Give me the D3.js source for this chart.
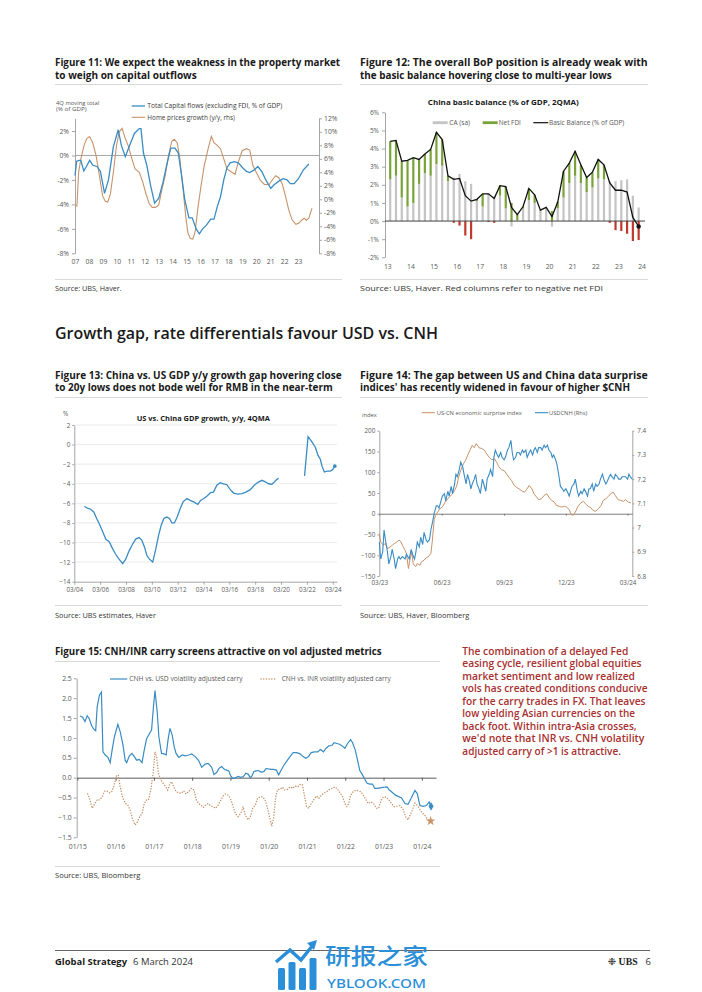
<!DOCTYPE html>
<html><head><meta charset="utf-8">
<script src="https://cdn.jsdelivr.net/npm/d3@7"></script>
<style>body{margin:0;background:#fff}svg{display:block}</style>
</head><body><svg id="page" width="702" height="992"></svg>
<script>
// ---------------- DATA ----------------
// Figure 11: [year, % of GDP] and [year, % y/y]
const fig11CapitalFlows = [[2007.00,-1.64],[2007.12,-0.47],[2007.30,-0.4],[2007.42,-0.4],[2007.63,-1.26],[2007.82,-0.9],[2008.05,-0.4],[2008.28,-0.8],[2008.58,-0.9],[2008.82,-1.3],[2009.12,-3.1],[2009.40,-2.0],[2009.75,0.7],[2010.10,2.1],[2010.33,0.8],[2010.61,-0.1],[2010.91,0.8],[2011.26,1.8],[2011.61,2.2],[2011.73,2.2],[2011.91,0.2],[2012.15,-0.8],[2012.43,-2.5],[2012.71,-3.9],[2013.01,-3.5],[2013.31,-2.2],[2013.59,-0.7],[2013.87,0.6],[2014.17,0.6],[2014.41,0.2],[2014.64,-1.6],[2014.87,-3.6],[2015.17,-5.1],[2015.41,-5.1],[2015.69,-6.0],[2015.92,-6.4],[2016.15,-6.0],[2016.43,-5.7],[2016.73,-5.2],[2016.97,-5.2],[2017.20,-4.2],[2017.43,-3.4],[2017.67,-2.0],[2017.90,-1.0],[2018.13,-0.6],[2018.43,-0.5],[2018.71,-0.6],[2019.02,-1.0],[2019.30,-1.3],[2019.53,-1.4],[2019.83,-1.2],[2020.11,-0.9],[2020.39,-1.3],[2020.69,-2.0],[2021.04,-2.7],[2021.28,-2.4],[2021.62,-2.1],[2021.93,-1.9],[2022.21,-2.0],[2022.44,-2.3],[2022.72,-2.3],[2023.02,-1.9],[2023.37,-1.2],[2023.77,-0.7]];
const fig11HomePrices = [[2007.00,-1.0],[2007.14,-1.0],[2007.26,4.0],[2007.42,6.0],[2007.65,8.0],[2007.84,9.0],[2008.05,9.3],[2008.28,8.3],[2008.51,6.5],[2008.75,3.5],[2008.98,0.5],[2009.17,-0.3],[2009.35,-0.4],[2009.54,0.8],[2009.75,4.0],[2009.98,8.0],[2010.17,10.0],[2010.38,10.5],[2010.61,9.0],[2010.84,7.8],[2011.08,6.0],[2011.31,4.5],[2011.61,4.0],[2011.84,2.7],[2012.08,0.9],[2012.31,-0.6],[2012.54,-1.2],[2012.78,-1.2],[2013.01,-0.8],[2013.24,1.5],[2013.47,3.5],[2013.71,6.5],[2013.94,8.6],[2014.13,8.9],[2014.34,8.3],[2014.52,6.0],[2014.75,1.5],[2014.94,-2.5],[2015.10,-5.0],[2015.27,-5.8],[2015.45,-5.9],[2015.62,-4.8],[2015.80,-1.5],[2016.04,2.0],[2016.27,5.0],[2016.55,7.5],[2016.78,9.3],[2016.97,8.4],[2017.20,8.0],[2017.43,7.5],[2017.67,6.0],[2017.90,4.5],[2018.25,4.0],[2018.48,3.7],[2018.71,5.5],[2018.99,7.2],[2019.30,7.5],[2019.53,7.3],[2019.76,5.0],[2020.00,4.0],[2020.30,2.8],[2020.58,2.2],[2020.93,2.2],[2021.16,2.9],[2021.39,3.5],[2021.62,3.2],[2021.86,2.3],[2022.09,0.5],[2022.32,-1.5],[2022.56,-3.0],[2022.84,-3.7],[2023.07,-3.5],[2023.25,-3.1],[2023.44,-2.8],[2023.60,-3.1],[2023.77,-2.8],[2024.00,-1.3]];
const fig11Years = [2007,2008,2009,2010,2011,2012,2013,2014,2015,2016,2017,2018,2019,2020,2021,2022,2023];
const fig11LeftTicks = [-8,-6,-4,-2,0,2];
const fig11RightTicks = [-8,-6,-4,-2,0,2,4,6,8,10,12];

// Figure 12: quarterly, % of GDP
const fig12Quarters = ["13Q1","13Q2","13Q3","13Q4","14Q1","14Q2","14Q3","14Q4","15Q1","15Q2","15Q3","15Q4","16Q1","16Q2","16Q3","16Q4","17Q1","17Q2","17Q3","17Q4","18Q1","18Q2","18Q3","18Q4","19Q1","19Q2","19Q3","19Q4","20Q1","20Q2","20Q3","20Q4","21Q1","21Q2","21Q3","21Q4","22Q1","22Q2","22Q3","22Q4","23Q1","23Q2","23Q3","23Q4"];
const fig12CA = [2.3,2.5,1.3,0.8,1.0,2.05,2.65,2.5,3.15,3.05,2.2,2.4,2.6,2.2,2.05,1.1,0.8,1.55,1.35,1.4,0.7,-0.3,0.05,0.7,1.15,1.0,0.55,0.75,-0.3,0.7,1.3,2.1,2.5,2.1,1.6,1.85,2.35,2.3,2.2,2.2,2.25,2.3,1.4,0.75];
const fig12FDI = [2.1,1.95,2.0,2.55,2.5,1.35,1.05,1.45,1.75,1.45,0.3,-0.1,-0.25,-0.8,-1.0,0.1,0.7,-0.05,-0.1,0.55,1.2,1.0,0.3,0.1,0.65,0.45,0.05,0.0,0.55,0.35,1.45,1.1,1.35,1.0,0.8,0.85,1.05,0.8,-0.1,-0.5,-0.55,-0.7,-1.1,-1.05];
const fig12Basic = [4.4,4.45,3.3,3.35,3.5,3.4,3.7,3.95,4.9,4.5,2.5,2.3,2.35,1.4,1.1,1.2,1.5,1.5,1.25,1.95,1.9,0.75,0.35,0.8,1.8,1.45,0.6,0.75,0.25,1.05,2.75,3.2,3.85,3.1,2.4,2.7,3.4,3.1,2.1,1.7,1.7,1.6,0.2,-0.3];
const fig12Years = [2013,2014,2015,2016,2017,2018,2019,2020,2021,2022,2023,2024];
const fig12Ticks = [-2,-1,0,1,2,3,4,5,6];

// Figure 13: US minus China GDP growth, y/y 4QMA (null = gap)
const fig13Dates = [2004.95,2005.18,2005.44,2005.69,2005.9,2006.11,2006.37,2006.62,2006.86,2007.12,2007.37,2007.63,2007.92,2008.15,2008.41,2008.67,2008.92,2009.18,2009.39,2009.6,2009.78,2009.98,2010.24,2010.47,2010.68,2010.89,2011.1,2011.33,2011.54,2011.72,2011.92,2012.13,2012.36,2012.59,2012.88,2013.14,2013.4,2013.73,2013.94,2014.2,2014.45,2014.71,2014.94,2015.2,2015.46,2015.72,2015.98,2016.24,2016.5,2016.83,2017.14,2017.45,2017.79,2018.1,2018.38,2018.69,2018.95,2019.2,2019.46,2019.67,2019.85,2019.98,2021.0,2021.99,2022.26,2022.44,2022.62,2022.83,2023.03,2023.21,2023.34,2023.52,2023.73,2023.99,2024.17,2024.33];
const fig13Gap = [-6.3,-6.5,-6.6,-6.9,-7.55,-8.1,-8.9,-9.7,-9.9,-10.6,-11.2,-11.7,-12.15,-11.7,-10.85,-10.2,-9.65,-9.5,-9.75,-10.45,-11.3,-11.7,-12.0,-10.7,-9.35,-8.25,-7.55,-7.4,-7.55,-8.0,-8.0,-7.4,-6.55,-5.85,-5.5,-5.7,-5.85,-6.1,-5.7,-5.5,-5.25,-4.9,-4.85,-4.15,-3.9,-4.0,-4.1,-4.6,-4.95,-5.05,-5.0,-4.85,-4.6,-4.15,-3.85,-3.65,-3.8,-4.0,-4.05,-3.8,-3.55,-3.45,null,-3.2,0.8,0.5,0.15,-0.3,-1.1,-1.5,-2.2,-2.8,-2.7,-2.7,-2.55,-2.2];
const fig13Ticks = [-14,-12,-10,-8,-6,-4,-2,0,2];
const fig13LabelDates = [2004.17,2006.17,2008.17,2010.17,2012.17,2014.17,2016.17,2018.17,2020.17,2022.17,2024.17];
const fig13Labels = ["03/04","03/06","03/08","03/10","03/12","03/14","03/16","03/18","03/20","03/22","03/24"];

// Figure 14: [days since 2023-03-01, value]
const fig14Surprise = [[0,-48],[2,-68],[6,-76],[9,-71],[12,-84],[16,-80],[19,-76],[22,-72],[26,-68],[29,-63],[32,-68],[35,-79],[38,-88],[40,-96],[43,-132],[45,-112],[48,-92],[50,-122],[54,-127],[56,-120],[60,-124],[62,-116],[66,-112],[69,-106],[72,-104],[76,-96],[78,-68],[81,-14],[83,-4],[86,4],[89,12],[93,16],[97,28],[101,36],[104,42],[108,48],[111,56],[114,66],[117,88],[120,104],[124,120],[127,128],[130,140],[134,154],[137,165],[140,159],[143,169],[147,159],[151,157],[155,153],[158,145],[162,136],[166,130],[170,132],[173,124],[176,114],[180,106],[184,104],[188,95],[191,88],[195,80],[199,68],[202,64],[206,60],[210,55],[214,52],[217,58],[221,68],[225,60],[228,48],[232,40],[235,34],[239,36],[243,44],[247,48],[250,40],[254,32],[258,28],[261,20],[265,18],[269,16],[273,18],[276,16],[280,10],[283,-2],[286,-4],[289,4],[293,18],[297,26],[301,30],[304,24],[308,18],[312,14],[315,8],[319,6],[323,12],[327,20],[330,32],[334,36],[338,42],[341,48],[345,52],[348,44],[352,34],[356,32],[360,30],[363,34],[367,28],[371,26]];
const fig14USDCNH = [[0,6.94],[2,6.87],[5,6.90],[7,6.99],[9,6.95],[12,6.90],[14,6.85],[17,6.88],[19,6.91],[22,6.87],[24,6.83],[27,6.87],[29,6.88],[31,6.87],[34,6.88],[38,6.87],[40,6.89],[44,6.87],[47,6.91],[49,6.89],[52,6.87],[54,6.90],[56,6.94],[59,6.92],[61,6.96],[64,6.93],[66,6.98],[69,6.95],[71,6.94],[74,6.95],[76,6.99],[79,7.03],[81,7.06],[84,7.09],[86,7.09],[88,7.08],[91,7.11],[93,7.13],[96,7.14],[98,7.11],[101,7.15],[103,7.13],[106,7.17],[108,7.14],[111,7.18],[113,7.22],[115,7.21],[118,7.24],[120,7.27],[123,7.25],[125,7.22],[128,7.18],[130,7.22],[133,7.19],[135,7.16],[137,7.18],[140,7.20],[142,7.22],[144,7.18],[147,7.16],[149,7.14],[152,7.20],[154,7.18],[157,7.15],[159,7.20],[162,7.22],[164,7.24],[167,7.21],[169,7.29],[171,7.32],[174,7.30],[176,7.29],[179,7.31],[181,7.29],[184,7.28],[186,7.29],[189,7.32],[191,7.33],[194,7.36],[196,7.31],[198,7.28],[201,7.29],[203,7.31],[206,7.31],[208,7.30],[211,7.32],[213,7.31],[216,7.32],[218,7.29],[221,7.31],[223,7.32],[226,7.30],[228,7.32],[230,7.33],[233,7.31],[235,7.33],[238,7.33],[240,7.32],[243,7.34],[245,7.33],[248,7.34],[250,7.32],[253,7.31],[255,7.29],[257,7.30],[260,7.28],[262,7.26],[265,7.21],[267,7.17],[270,7.16],[272,7.15],[275,7.16],[277,7.15],[280,7.13],[282,7.15],[284,7.17],[287,7.18],[289,7.20],[292,7.15],[294,7.13],[297,7.15],[299,7.14],[302,7.16],[304,7.15],[307,7.13],[309,7.16],[311,7.16],[314,7.18],[316,7.15],[319,7.18],[321,7.17],[324,7.18],[326,7.20],[329,7.22],[331,7.20],[334,7.18],[336,7.19],[339,7.21],[341,7.22],[343,7.21],[346,7.20],[348,7.22],[351,7.21],[353,7.20],[356,7.20],[358,7.21],[361,7.21],[363,7.21],[366,7.20],[368,7.22],[370,7.21],[373,7.20]];
const fig14LeftTicks = [-150,-100,-50,0,50,100,150,200];
const fig14RightTicks = [6.8,6.9,7.0,7.1,7.2,7.3,7.4];
const fig14LabelDays = [0,92,184,275,366];
const fig14Labels = ["03/23","06/23","09/23","12/23","03/24"];

// Figure 15: [year, vol-adjusted carry]
const fig15CnhUsd = [[2015.07,1.55],[2015.14,1.52],[2015.20,1.41],[2015.26,1.56],[2015.31,1.49],[2015.37,1.32],[2015.43,1.22],[2015.48,1.18],[2015.52,1.79],[2015.58,2.08],[2015.63,2.15],[2015.67,0.65],[2015.73,0.57],[2015.80,0.51],[2015.86,0.38],[2015.91,0.70],[2015.97,1.03],[2016.06,1.34],[2016.12,1.16],[2016.19,0.84],[2016.25,0.44],[2016.29,0.38],[2016.36,0.55],[2016.43,0.61],[2016.49,0.53],[2016.55,0.44],[2016.62,0.46],[2016.69,0.38],[2016.75,0.70],[2016.81,0.98],[2016.88,1.10],[2016.94,1.20],[2016.99,1.79],[2017.03,2.19],[2017.09,1.62],[2017.13,1.03],[2017.20,0.61],[2017.27,0.60],[2017.32,0.57],[2017.37,0.95],[2017.42,1.24],[2017.48,1.07],[2017.53,0.78],[2017.58,0.61],[2017.65,0.51],[2017.74,0.57],[2017.82,0.55],[2017.91,0.57],[2017.99,0.60],[2018.08,0.53],[2018.17,0.43],[2018.25,0.26],[2018.34,0.34],[2018.42,0.36],[2018.51,0.26],[2018.57,0.08],[2018.64,0.13],[2018.70,0.23],[2018.77,0.28],[2018.84,0.21],[2018.90,0.19],[2018.96,0.17],[2019.01,0.04],[2019.07,-0.02],[2019.13,0.00],[2019.20,0.03],[2019.27,0.01],[2019.34,0.03],[2019.40,0.11],[2019.46,0.09],[2019.52,0.00],[2019.56,0.04],[2019.61,0.15],[2019.67,0.17],[2019.73,0.18],[2019.80,0.14],[2019.87,0.15],[2019.93,0.23],[2019.99,0.22],[2020.06,0.21],[2020.13,0.21],[2020.20,0.19],[2020.26,0.07],[2020.32,0.18],[2020.40,0.32],[2020.49,0.44],[2020.57,0.55],[2020.64,0.63],[2020.73,0.63],[2020.82,0.60],[2020.90,0.53],[2020.97,0.49],[2021.04,0.53],[2021.11,0.63],[2021.19,0.65],[2021.28,0.65],[2021.35,0.71],[2021.43,0.65],[2021.50,0.74],[2021.57,0.80],[2021.65,0.81],[2021.71,0.88],[2021.78,0.86],[2021.85,0.84],[2021.92,0.80],[2021.99,0.74],[2022.06,0.86],[2022.14,0.96],[2022.19,0.88],[2022.26,0.70],[2022.32,0.44],[2022.38,0.18],[2022.45,0.07],[2022.51,-0.04],[2022.57,-0.14],[2022.64,-0.16],[2022.71,-0.16],[2022.77,-0.27],[2022.85,-0.27],[2022.94,-0.25],[2023.03,-0.24],[2023.09,-0.23],[2023.15,-0.31],[2023.24,-0.38],[2023.31,-0.44],[2023.47,-0.51],[2023.56,-0.65],[2023.64,-0.67],[2023.73,-0.50],[2023.82,-0.32],[2023.88,-0.40],[2023.95,-0.70],[2024.03,-0.72],[2024.12,-0.70],[2024.19,-0.61],[2024.24,-0.72]];
const fig15CnhInr = [[2015.27,-0.41],[2015.33,-0.56],[2015.39,-0.77],[2015.46,-0.65],[2015.52,-0.55],[2015.58,-0.56],[2015.65,-0.48],[2015.71,-0.34],[2015.77,-0.33],[2015.84,-0.38],[2015.90,-0.35],[2015.95,-0.23],[2016.02,0.04],[2016.07,0.07],[2016.12,-0.23],[2016.19,-0.52],[2016.26,-0.65],[2016.32,-0.69],[2016.38,-0.81],[2016.45,-1.06],[2016.51,-1.19],[2016.57,-1.11],[2016.63,-0.98],[2016.69,-0.90],[2016.75,-0.65],[2016.81,-0.56],[2016.86,-0.56],[2016.92,-0.31],[2016.98,0.11],[2017.03,0.65],[2017.07,0.53],[2017.12,0.11],[2017.18,-0.06],[2017.24,-0.14],[2017.31,-0.23],[2017.36,-0.31],[2017.41,-0.18],[2017.46,-0.10],[2017.52,-0.23],[2017.58,-0.35],[2017.65,-0.38],[2017.72,-0.39],[2017.78,-0.33],[2017.84,-0.41],[2017.91,-0.35],[2017.98,-0.27],[2018.05,-0.31],[2018.11,-0.56],[2018.17,-0.65],[2018.23,-0.69],[2018.29,-0.75],[2018.35,-0.69],[2018.42,-0.65],[2018.49,-0.71],[2018.55,-0.73],[2018.61,-0.77],[2018.68,-0.69],[2018.75,-0.56],[2018.81,-0.46],[2018.87,-0.41],[2018.94,-0.44],[2019.00,-0.52],[2019.07,-0.73],[2019.13,-0.90],[2019.20,-0.98],[2019.27,-0.90],[2019.33,-0.73],[2019.39,-0.94],[2019.46,-1.06],[2019.52,-0.98],[2019.58,-0.77],[2019.65,-0.69],[2019.71,-0.52],[2019.78,-0.48],[2019.84,-0.48],[2019.90,-0.55],[2019.95,-0.69],[2020.04,-1.06],[2020.08,-1.22],[2020.13,-1.0],[2020.18,-0.5],[2020.23,-0.30],[2020.30,-0.29],[2020.36,-0.24],[2020.42,-0.31],[2020.49,-0.29],[2020.56,-0.23],[2020.63,-0.27],[2020.69,-0.21],[2020.76,-0.23],[2020.83,-0.16],[2020.88,-0.18],[2020.94,-0.48],[2020.99,-0.73],[2021.05,-0.77],[2021.11,-0.65],[2021.18,-0.55],[2021.25,-0.46],[2021.31,-0.52],[2021.38,-0.44],[2021.45,-0.38],[2021.52,-0.35],[2021.59,-0.29],[2021.66,-0.27],[2021.73,-0.23],[2021.80,-0.29],[2021.86,-0.38],[2021.93,-0.48],[2021.99,-0.65],[2022.04,-0.73],[2022.09,-0.65],[2022.14,-0.44],[2022.21,-0.35],[2022.28,-0.31],[2022.34,-0.33],[2022.40,-0.35],[2022.47,-0.44],[2022.54,-0.55],[2022.60,-0.65],[2022.67,-0.61],[2022.74,-0.65],[2022.81,-0.77],[2022.87,-0.77],[2022.94,-0.56],[2023.00,-0.48],[2023.07,-0.49],[2023.14,-0.56],[2023.21,-0.65],[2023.28,-0.73],[2023.43,-0.70],[2023.51,-0.80],[2023.58,-0.99],[2023.64,-1.06],[2023.73,-0.86],[2023.82,-0.64],[2023.90,-0.72],[2023.99,-0.86],[2024.08,-0.95],[2024.16,-1.06],[2024.23,-1.09]];
const fig15Ticks = [-1.5,-1.0,-0.5,0.0,0.5,1.0,1.5,2.0,2.5];
const fig15Years = [2015,2016,2017,2018,2019,2020,2021,2022,2023,2024];

const commentLines = ["The combination of a delayed Fed","easing cycle, resilient global equities","market sentiment and low realized","vols has created conditions conducive","for the carry trades in FX. That leaves","low yielding Asian currencies on the","back foot. Within intra-Asia crosses,","we'd note that INR vs. CNH volatility","adjusted carry of >1 is attractive."];

// ---------------- DRAWING ----------------
const FONT = '"Open Sans","Noto Sans","DejaVu Sans",sans-serif';
const BLUE = "#3a8cc4", TAN = "#c8936b", GREEN = "#79a33a", RED = "#c0392b", GRAY = "#c4c4c4";
const svg = d3.select("#page");
svg.append("rect").attr("width",702).attr("height",992).attr("fill","#fff");

function addText(x, y, s, o = {}) {
  const t = svg.append("text").attr("x", x).attr("y", y).text(s)
    .attr("font-family", o.family || FONT).attr("font-size", o.size || 7)
    .attr("fill", o.fill || "#333").attr("font-weight", o.weight || 400)
    .attr("text-anchor", o.anchor || "start");
  if (o.width) t.attr("textLength", o.width).attr("lengthAdjust", "spacingAndGlyphs");
  return t;
}
function hline(x1, x2, y, color = "#d9d9d9", w = 1) {
  svg.append("line").attr("x1", x1).attr("x2", x2).attr("y1", y).attr("y2", y)
    .attr("stroke", color).attr("stroke-width", w);
}
function styleAxis(g, o = {}) {
  g.attr("font-family", FONT).attr("font-size", o.size || 6.5);
  g.selectAll("text").attr("fill", o.fill || "#595959");
  g.selectAll(".domain").attr("stroke", o.line || "#a6a6a6");
  g.selectAll(".tick line").attr("stroke", o.line || "#a6a6a6");
  if (o.noDomain) g.select(".domain").remove();
  return g;
}
const yy = d => String(d).slice(2);

// ---- Titles, separators, sources ----
const T = {size: 10, weight: 700, fill: "#1a1a1a"};
addText(55, 66, "Figure 11: We expect the weakness in the property market", {...T, width: 285});
addText(55, 79, "to weigh on capital outflows", {...T, width: 141.7});
addText(360, 66, "Figure 12: The overall BoP position is already weak with", {...T, width: 287.7});
addText(360, 79, "the basic balance hovering close to multi-year lows", {...T, width: 251.7});
hline(55, 342, 84.5); hline(360, 648, 84.5);
hline(55, 342, 279.5); hline(360, 648, 279.5);
addText(55, 290.5, "Source: UBS, Haver.", {size: 7, fill: "#333", width: 66.7});
addText(360, 290.5, "Source: UBS, Haver. Red columns refer to negative net FDI", {size: 7, fill: "#333", width: 243});

addText(55, 339, "Growth gap, rate differentials favour USD vs. CNH", {size: 16.5, weight: 600, fill: "#1a1a1a", width: 383});

addText(55, 378.5, "Figure 13: China vs. US GDP y/y growth gap hovering close", {...T, width: 286.7});
addText(55, 391, "to 20y lows does not bode well for RMB in the near-term", {...T, width: 277.7});
addText(360, 378.5, "Figure 14: The gap between US and China data surprise", {...T, width: 287.7});
addText(360, 391, "indices' has recently widened in favour of higher $CNH", {...T, width: 270});
hline(55, 342, 397.5); hline(360, 648, 397.5);
hline(55, 342, 605.5); hline(360, 648, 605.5);
addText(55, 617.5, "Source: UBS estimates, Haver", {size: 7, width: 101});
addText(360, 617.5, "Source: UBS, Haver, Bloomberg", {size: 7, width: 109.3});

addText(55, 654.5, "Figure 15: CNH/INR carry screens attractive on vol adjusted metrics", {...T, width: 326.7});
hline(55, 440, 661.5);
hline(55, 440, 866.5);
addText(55, 877.5, "Source: UBS, Bloomberg", {size: 7, width: 85.3});

// commentary
const commentWidths = [166, 179.3, 172.7, 185.3, 183.3, 172.7, 174.3, 182, 158.7];
commentLines.forEach((s, i) => addText(462.3, 654.5 + i * 12.5, s, {size: 10.5, weight: 600, fill: "#a8302f", width: commentWidths[i]}));

// ---------------- FIGURE 11 ----------------
{
  const x = d3.scaleLinear().domain([2007, 2024.5]).range([75, 319]);
  const yL = d3.scaleLinear().domain([-8, 3.04]).range([253.3, 118.3]);
  const yR = d3.scaleLinear().domain([-8, 12]).range([253.3, 118.3]);
  styleAxis(svg.append("g").attr("transform", "translate(75,0)")
    .call(d3.axisLeft(yL).tickValues(fig11LeftTicks).tickFormat(d => d + "%").tickSize(3).tickPadding(3).tickSizeOuter(0)), {size: 6.8});
  styleAxis(svg.append("g").attr("transform", "translate(319,0)")
    .call(d3.axisRight(yR).tickValues(fig11RightTicks).tickFormat(d => d + "%").tickSize(3).tickPadding(2).tickSizeOuter(0)), {size: 6.8});
  styleAxis(svg.append("g").attr("transform", "translate(0,253.3)")
    .call(d3.axisBottom(x).tickValues(fig11Years).tickFormat(yy).tickSize(0).tickPadding(6)), {size: 6.8, noDomain: true});
  hline(75, 319, yL(0), "#a6a6a6");
  svg.append("path").datum(fig11HomePrices).attr("fill", "none").attr("stroke", TAN).attr("stroke-width", 1.1)
    .attr("d", d3.line().x(d => x(d[0])).y(d => yR(d[1])));
  svg.append("path").datum(fig11CapitalFlows).attr("fill", "none").attr("stroke", BLUE).attr("stroke-width", 1.3)
    .attr("d", d3.line().x(d => x(d[0])).y(d => yL(d[1])));
  addText(56, 104.5, "4Q moving total", {size: 5.6, fill: "#595959", width: 43.3});
  addText(56, 111, "(% of GDP)", {size: 5.6, fill: "#595959", width: 30.7});
  hline(131.7, 145, 106, BLUE, 1.3);
  addText(147.3, 108.3, "Total Capital flows (excluding FDI, % of GDP)", {size: 6.3, fill: "#404040", width: 135});
  hline(131.7, 145, 117.3, TAN, 1.1);
  addText(147.3, 119.6, "Home prices growth (y/y, rhs)", {size: 6.3, fill: "#404040", width: 87.7});
}

// ---------------- FIGURE 12 ----------------
{
  const x = d3.scaleLinear().domain([2012.9, 2024.15]).range([385, 645]);
  const y = d3.scaleLinear().domain([-2, 6]).range([257.3, 112.3]);
  const qx = q => x(+("20" + q.slice(0, 2)) + (+q[3] - 1) * 0.25 + 0.125);
  addText(503.3, 104.5, "China basic balance (% of GDP, 2QMA)", {size: 7.5, weight: 700, fill: "#1a1a1a", anchor: "middle", width: 151});
  styleAxis(svg.append("g").attr("transform", "translate(385,0)")
    .call(d3.axisLeft(y).tickValues(fig12Ticks).tickFormat(d => d + "%").tickSize(3).tickPadding(3).tickSizeOuter(0)), {size: 6.5});
  styleAxis(svg.append("g").attr("transform", "translate(0,257.3)")
    .call(d3.axisBottom(x).tickValues(fig12Years).tickFormat(yy).tickSize(0).tickPadding(7)), {size: 6.8, noDomain: true});
  const bw = 2.2;
  const bars = svg.append("g");
  fig12Quarters.forEach((q, i) => {
    const ca = fig12CA[i], fdi = fig12FDI[i], cx = qx(q);
    bars.append("rect").attr("x", cx - bw / 2).attr("width", bw)
      .attr("y", y(Math.max(0, ca))).attr("height", Math.abs(y(0) - y(ca))).attr("fill", GRAY);
    let base = (fdi >= 0) === (ca >= 0) ? ca : 0;
    const top = base + fdi;
    bars.append("rect").attr("x", cx - bw / 2).attr("width", bw)
      .attr("y", y(Math.max(base, top))).attr("height", Math.abs(y(base) - y(top)))
      .attr("fill", fdi >= 0 ? GREEN : RED);
  });
  hline(385, 645, y(0), "#404040", 1);
  const pts = fig12Quarters.map((q, i) => [qx(q), y(fig12Basic[i])]);
  svg.append("path").datum(pts).attr("fill", "none").attr("stroke", "#111").attr("stroke-width", 1.3)
    .attr("d", d3.line());
  const last = pts[pts.length - 1];
  svg.append("circle").attr("cx", last[0]).attr("cy", last[1]).attr("r", 2.2).attr("fill", "#111");
  hline(432.7, 447.7, 122.7, GRAY, 2.8);
  addText(449.3, 125, "CA (sa)", {size: 6.3, fill: "#595959", width: 20.7});
  hline(482.7, 497.7, 122.7, GREEN, 2.8);
  addText(498.8, 125, "Net FDI", {size: 6.3, fill: "#595959", width: 22});
  hline(533.3, 548.3, 122.7, "#111", 1.2);
  addText(549, 125, "Basic Balance (% of GDP)", {size: 6.3, fill: "#595959", width: 75.3});
}

// ---------------- FIGURE 13 ----------------
{
  const x = d3.scaleLinear().domain([2004.17, 2024.5]).range([74.3, 337]);
  const y = d3.scaleLinear().domain([-14, 2]).range([581.7, 425]);
  addText(203.3, 421, "US vs. China GDP growth, y/y, 4QMA", {size: 7.5, weight: 700, fill: "#1a1a1a", anchor: "middle", width: 133.3});
  addText(63, 415.5, "%", {size: 6.3, fill: "#595959"});
  svg.append("g").selectAll("line").data(fig13Ticks.filter(d => d > -14)).join("line")
    .attr("x1", 74.3).attr("x2", 337).attr("y1", d => y(d)).attr("y2", d => y(d))
    .attr("stroke", "#e6e6e6").attr("stroke-width", 0.8);
  styleAxis(svg.append("g").attr("transform", "translate(74.3,0)")
    .call(d3.axisLeft(y).tickValues(fig13Ticks).tickSize(2).tickPadding(2).tickSizeOuter(0)), {size: 6.3});
  styleAxis(svg.append("g").attr("transform", "translate(0,581.7)")
    .call(d3.axisBottom(x).tickValues(fig13LabelDates).tickFormat((d, i) => fig13Labels[i]).tickSize(3).tickPadding(3).tickSizeOuter(0)), {size: 6.3});
  const data = fig13Dates.map((d, i) => [d, fig13Gap[i]]);
  svg.append("path").datum(data).attr("fill", "none").attr("stroke", BLUE).attr("stroke-width", 1.3)
    .attr("d", d3.line().defined(d => d[1] !== null).x(d => x(d[0])).y(d => y(d[1])));
  const last = data[data.length - 1];
  svg.append("circle").attr("cx", x(last[0])).attr("cy", y(last[1])).attr("r", 1.8).attr("fill", BLUE);
}

// ---------------- FIGURE 14 ----------------
{
  const x = d3.scaleLinear().domain([0, 373]).range([379.3, 632.3]);
  const yL = d3.scaleLinear().domain([-150, 200]).range([576, 430.7]);
  const yR = d3.scaleLinear().domain([6.8, 7.4]).range([576, 430.7]);
  addText(362, 417, "index", {size: 5.8, fill: "#595959"});
  styleAxis(svg.append("g").attr("transform", "translate(379.3,0)")
    .call(d3.axisLeft(yL).tickValues(fig14LeftTicks).tickSize(2).tickPadding(2).tickSizeOuter(0)), {size: 6.3});
  styleAxis(svg.append("g").attr("transform", "translate(632.3,0)")
    .call(d3.axisRight(yR).tickValues(fig14RightTicks).tickFormat(d => d3.format("~g")(d)).tickSize(2).tickPadding(3).tickSizeOuter(0)), {size: 6.3});
  styleAxis(svg.append("g").attr("transform", "translate(0,576)")
    .call(d3.axisBottom(x).tickValues(fig14LabelDays).tickFormat((d, i) => fig14Labels[i]).tickSize(0).tickPadding(5)), {size: 6.3, noDomain: true});
  styleAxis(svg.append("g").attr("transform", `translate(0,${yL(0)})`)
    .call(d3.axisBottom(x).tickValues(fig14LabelDays).tickFormat("").tickSize(2).tickSizeOuter(0)), {line: "#7f7f7f"});
  svg.append("path").datum(fig14Surprise).attr("fill", "none").attr("stroke", TAN).attr("stroke-width", 1)
    .attr("d", d3.line().x(d => x(d[0])).y(d => yL(d[1])));
  svg.append("path").datum(fig14USDCNH).attr("fill", "none").attr("stroke", BLUE).attr("stroke-width", 1.1)
    .attr("d", d3.line().x(d => x(d[0])).y(d => yR(d[1])));
  hline(421.7, 435, 412.7, TAN, 1);
  addText(436.7, 414.8, "US-CN economic surprise index", {size: 5.8, fill: "#595959", width: 85});
  hline(535, 548.3, 412.7, BLUE, 1.1);
  addText(549, 414.8, "USDCNH (Rhs)", {size: 5.8, fill: "#595959", width: 38.3});
}

// ---------------- FIGURE 15 ----------------
{
  const x = d3.scaleLinear().domain([2015, 2024.37]).range([77.3, 436]);
  const y = d3.scaleLinear().domain([-1.5, 2.5]).range([837.3, 678.3]);
  styleAxis(svg.append("g").attr("transform", "translate(76.7,0)")
    .call(d3.axisLeft(y).tickValues(fig15Ticks).tickFormat(d3.format(".1f")).tickSize(3).tickPadding(2).tickSizeOuter(0)), {size: 6.8});
  styleAxis(svg.append("g").attr("transform", "translate(0,837.3)")
    .call(d3.axisBottom(x).tickValues(fig15Years).tickFormat(d => "01/" + yy(d)).tickSize(0).tickPadding(7)), {size: 6.8, noDomain: true});
  styleAxis(svg.append("g").attr("transform", `translate(0,${y(0)})`)
    .call(d3.axisBottom(x).tickValues(fig15Years).tickFormat("").tickSize(3).tickSizeOuter(0)), {line: "#595959"});
  svg.append("path").datum(fig15CnhInr).attr("fill", "none").attr("stroke", TAN).attr("stroke-width", 1.4)
    .attr("stroke-dasharray", "0.1,2.6").attr("stroke-linecap", "round")
    .attr("d", d3.line().x(d => x(d[0])).y(d => y(d[1])));
  svg.append("path").datum(fig15CnhUsd).attr("fill", "none").attr("stroke", BLUE).attr("stroke-width", 1.2)
    .attr("d", d3.line().x(d => x(d[0])).y(d => y(d[1])));
  const lu = fig15CnhUsd[fig15CnhUsd.length - 1], li = fig15CnhInr[fig15CnhInr.length - 1];
  svg.append("path").attr("d", d3.symbol(d3.symbolDiamond, 22)()).attr("fill", BLUE)
    .attr("transform", `translate(${x(lu[0])},${y(lu[1])})`);
  svg.append("path").attr("d", d3.symbol(d3.symbolStar, 30)()).attr("fill", TAN)
    .attr("transform", `translate(${x(li[0])},${y(li[1])})`);
  hline(110, 127.3, 679, BLUE, 1.2);
  addText(129.3, 681.2, "CNH vs. USD volatility adjusted carry", {size: 6.3, fill: "#595959", width: 113.3});
  svg.append("line").attr("x1", 261).attr("x2", 277).attr("y1", 679).attr("y2", 679)
    .attr("stroke", TAN).attr("stroke-width", 1.4).attr("stroke-dasharray", "0.1,2.6").attr("stroke-linecap", "round");
  addText(281.7, 681.2, "CNH vs. INR volatility adjusted carry", {size: 6.3, fill: "#595959", width: 109});
}

// ---------------- FOOTER ----------------
hline(55, 650, 950.5, "#666", 1);
addText(55, 964.5, "Global Strategy", {size: 9.5, weight: 700, fill: "#1a1a1a", width: 72});
addText(133, 964.5, "6 March 2024", {size: 9.5, fill: "#333", width: 60});
addText(612, 964.5, "\u2749", {size: 10, fill: "#333", anchor: "middle", family: '"DejaVu Sans"'});
addText(618.6, 964.5, "UBS", {size: 9.5, fill: "#222", family: '"Liberation Serif",serif', weight: 700, width: 19});
addText(645.5, 964.5, "6", {size: 9.5, fill: "#333"});

// watermark
{
  const wm = svg.append("g").attr("fill", "#2a8fd8");
  wm.append("rect").attr("x", 278).attr("y", 968).attr("width", 7).attr("height", 22).attr("rx", 1.5);
  wm.append("rect").attr("x", 288.5).attr("y", 962).attr("width", 7).attr("height", 28).attr("rx", 1.5);
  wm.append("rect").attr("x", 299).attr("y", 968).attr("width", 7).attr("height", 22).attr("rx", 1.5);
  wm.append("rect").attr("x", 309.5).attr("y", 958).attr("width", 7).attr("height", 32).attr("rx", 1.5);
  wm.append("path").attr("d", "M276,962 L290,950 L301,960 L313,945").attr("fill", "none").attr("stroke", "#2a8fd8").attr("stroke-width", 3.5);
  wm.append("path").attr("d", "M307,943 L317,940 L314,950 Z");
  addText(325, 964, "研报之家", {size: 22, fill: "#2a8fd8", family: '"Noto Sans CJK SC",sans-serif', weight: 500, width: 103});
  addText(327, 988, "YBLOOK.COM", {size: 13, fill: "#2a8fd8", family: '"Noto Sans",sans-serif', weight: 500, width: 99});
}
</script></body></html>
